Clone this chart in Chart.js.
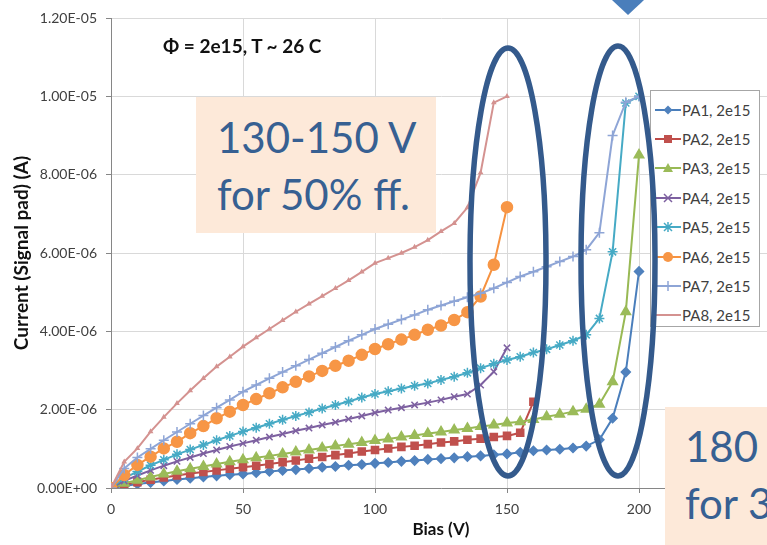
<!DOCTYPE html>
<html>
<head>
<meta charset="utf-8">
<script src="https://cdn.jsdelivr.net/npm/chart.js@4.4.1/dist/chart.umd.min.js"></script>
<style>
  html, body { margin: 0; padding: 0; width: 767px; height: 545px; overflow: hidden; background: #fff; font-family: Lato, "Open Sans", sans-serif; }
  #wrap { position: absolute; left: 0; top: 0; width: 800px; height: 545px; }
  #legend { position: absolute; left: 650px; top: 90px; width: 110px; height: 237px; background: #fff; border: 1px solid #a6a6a6; box-sizing: border-box; padding-top: 4px; }
  .lg-row { height: 29.4px; display: flex; align-items: center; font-size: 15px; color: #404040; white-space: nowrap; }
  .lg-row svg { margin-left: 4px; margin-right: 1px; }
  #fluence { position: absolute; left: 163px; top: 35px; font-size: 19px; font-weight: bold; color: #111; line-height: 22px; }
  .note { position: absolute; background: #fde9d9; color: #376092; font-size: 42px; line-height: 57px; overflow: hidden; white-space: nowrap; box-sizing: border-box; }
  #note1 { left: 196px; top: 97px; width: 240px; height: 136px; padding: 12px 0 0 21px; }
  #note2 { left: 665px; top: 407px; width: 110px; height: 140px; padding: 11px 0 0 20px; }
  #marks { position: absolute; left: 0; top: 0; }
</style>
</head>
<body>
<div id="wrap"><canvas id="chartIV"></canvas></div>
<div id="legend"></div>
<div id="fluence">Φ = 2e15, T ~ 26 C</div>
<div class="note" id="note1">130-150 V<br>for 50% ff.</div>
<div class="note" id="note2">180 V<br>for 30% ff.</div>
<svg id="marks" width="767" height="545">
  <ellipse cx="508" cy="262" rx="38" ry="214" fill="none" stroke="#345a8c" stroke-width="5.5"/>
  <ellipse cx="618" cy="261" rx="37" ry="215" fill="none" stroke="#345a8c" stroke-width="5.5"/>
  <polygon points="612,0 644,0 628,15" fill="#4a7ebb"/>
</svg>
<script>
// bias voltage steps (V)
const biasV = [0, 5, 10, 15, 20, 25, 30, 35, 40, 45, 50, 55, 60, 65, 70, 75, 80, 85, 90, 95, 100,
  105, 110, 115, 120, 125, 130, 135, 140, 145, 150, 155, 160, 165, 170, 175, 180, 185, 190, 195, 200];

// signal pad current, in microamps (1e-6 A), one value per bias step
const pa1 = [0, 0.05, 0.10, 0.14, 0.18, 0.22, 0.25, 0.28, 0.31, 0.34, 0.36, 0.39, 0.42, 0.45, 0.47, 0.50, 0.53, 0.55, 0.58, 0.60, 0.63,
  0.65, 0.68, 0.70, 0.73, 0.75, 0.77, 0.80, 0.82, 0.85, 0.87, 0.91, 0.95, 0.97, 0.99, 1.02, 1.07, 1.23, 1.78, 2.96, 5.53];
const pa2 = [0, 0.08, 0.15, 0.21, 0.27, 0.32, 0.37, 0.41, 0.45, 0.49, 0.53, 0.57, 0.61, 0.66, 0.70, 0.75, 0.79, 0.84, 0.88, 0.93, 0.97,
  1.01, 1.05, 1.08, 1.12, 1.16, 1.19, 1.23, 1.26, 1.30, 1.33, 1.41, 2.20];
const pa3 = [0, 0.12, 0.20, 0.28, 0.36, 0.43, 0.49, 0.55, 0.61, 0.67, 0.72, 0.77, 0.82, 0.87, 0.92, 0.97, 1.02, 1.07, 1.12, 1.16, 1.21,
  1.25, 1.30, 1.34, 1.39, 1.43, 1.48, 1.52, 1.57, 1.61, 1.66, 1.69, 1.75, 1.82, 1.88, 1.95, 2.01, 2.14, 2.71, 4.50, 8.50];
const pa4 = [0, 0.18, 0.32, 0.45, 0.57, 0.68, 0.78, 0.88, 0.97, 1.06, 1.14, 1.22, 1.30, 1.38, 1.46, 1.53, 1.61, 1.68, 1.76, 1.84, 1.92,
  1.99, 2.05, 2.12, 2.18, 2.25, 2.33, 2.40, 2.63, 2.97, 3.58];
const pa5 = [0, 0.25, 0.42, 0.58, 0.72, 0.86, 0.98, 1.10, 1.22, 1.33, 1.44, 1.54, 1.64, 1.74, 1.84, 1.93, 2.03, 2.12, 2.21, 2.31, 2.40,
  2.47, 2.54, 2.61, 2.67, 2.76, 2.84, 2.94, 3.06, 3.17, 3.27, 3.35, 3.46, 3.54, 3.65, 3.76, 3.91, 4.33, 6.03, 9.83, 10.0];
const pa6 = [0, 0.33, 0.59, 0.80, 1.01, 1.18, 1.40, 1.58, 1.78, 1.95, 2.12, 2.27, 2.42, 2.57, 2.71, 2.85, 2.99, 3.12, 3.25, 3.40, 3.55,
  3.67, 3.79, 3.91, 4.04, 4.15, 4.29, 4.49, 4.89, 5.70, 7.17];
const pa7 = [0, 0.50, 0.78, 1.00, 1.22, 1.43, 1.64, 1.85, 2.05, 2.25, 2.46, 2.63, 2.80, 2.96, 3.12, 3.28, 3.44, 3.60, 3.76, 3.91, 4.06,
  4.18, 4.30, 4.42, 4.55, 4.66, 4.77, 4.87, 4.97, 5.10, 5.25, 5.40, 5.52, 5.65, 5.78, 5.91, 6.08, 6.52, 9.00, 9.85, 10.0];
const pa8 = [0, 0.67, 1.01, 1.44, 1.81, 2.16, 2.49, 2.80, 3.10, 3.35, 3.61, 3.84, 4.06, 4.28, 4.50, 4.70, 4.90, 5.10, 5.30, 5.52, 5.74,
  5.87, 6.00, 6.15, 6.33, 6.55, 6.76, 7.16, 8.05, 9.84, 10.0];

const seriesNames = ['PA1, 2e15', 'PA2, 2e15', 'PA3, 2e15', 'PA4, 2e15', 'PA5, 2e15', 'PA6, 2e15', 'PA7, 2e15', 'PA8, 2e15'];
const seriesValues = [pa1, pa2, pa3, pa4, pa5, pa6, pa7, pa8];

const yTicksUA = [0, 2, 4, 6, 8, 10, 12];
const xTicksV = [0, 50, 100, 150, 200, 250];

// look of each series (line colour, marker)
const looks = [
  { line: '#4a7ebb', fill: '#4f81bd', style: 'rectRot', r: 4.5 },
  { line: '#be4b48', fill: '#c0504d', style: 'rect', r: 5 },
  { line: '#98b954', fill: '#9bbb59', style: 'triangle', r: 5.5 },
  { line: '#7d60a0', fill: '#7d60a0', style: 'crossRot', r: 4.5 },
  { line: '#46aac5', fill: '#46aac5', style: 'star', r: 5 },
  { line: '#f69240', fill: '#f79646', style: 'circle', r: 5.5 },
  { line: '#8ea5d6', fill: '#8ea5d6', style: 'cross', r: 5 },
  { line: '#d49290', fill: '#d49290', style: 'triangle', r: 1.8 }
];

function sci(v) {
  if (Math.abs(v) < 1e-15) return '0.00E+00';
  const parts = v.toExponential(2).split('e');
  const n = parseInt(parts[1], 10);
  return parts[0] + 'E' + (n < 0 ? '-' : '+') + String(Math.abs(n)).padStart(2, '0');
}

const datasets = seriesValues.map((vals, i) => ({
  label: seriesNames[i],
  data: vals.map((v, k) => ({ x: biasV[k], y: v * 1e-6 })),
  borderColor: looks[i].line,
  backgroundColor: looks[i].fill,
  pointBorderColor: looks[i].fill,
  pointBackgroundColor: looks[i].fill,
  pointStyle: looks[i].style,
  pointRadius: looks[i].r,
  pointBorderWidth: 1.5,
  borderWidth: 2,
  tension: 0,
  order: 8 - i
}));

new Chart(document.getElementById('chartIV'), {
  type: 'line',
  data: { datasets },
  options: {
    responsive: true,
    maintainAspectRatio: false,
    animation: false,
    layout: { padding: { top: 18, right: 29, bottom: 0, left: 0 } },
    plugins: { legend: { display: false }, tooltip: { enabled: false } },
    scales: {
      x: {
        type: 'linear',
        min: 0, max: 250,
        afterBuildTicks: s => { s.ticks = xTicksV.map(v => ({ value: v })); },
        afterFit: s => { s.height = 57; },
        ticks: { color: '#404040', font: { family: 'Lato', size: 14 }, padding: 8, maxRotation: 0 },
        grid: { color: '#d9d9d9', tickColor: '#868686', tickLength: 5 },
        border: { color: '#868686' },
        title: { display: true, text: 'Bias (V)', color: '#111', font: { family: 'Lato', size: 17, weight: 'bold' }, padding: { top: 0, bottom: 5 } }
      },
      y: {
        min: 0, max: 1.2e-5,
        afterBuildTicks: s => { s.ticks = yTicksUA.map(v => ({ value: v * 1e-6 })); },
        afterFit: s => { s.width = 111; },
        ticks: { color: '#404040', font: { family: 'Lato', size: 14 }, padding: 9, callback: v => sci(v) },
        grid: { color: '#d9d9d9', tickColor: '#868686', tickLength: 5 },
        border: { color: '#868686' },
        title: { display: true, text: 'Current (Signal pad) (A)', color: '#111', font: { family: 'Lato', size: 19, weight: 'bold' }, padding: { top: 10, bottom: 0 } }
      }
    }
  }
});

// legend drawn as html, one row per series
function markerSvg(look) {
  const c = look.fill, cx = 13, cy = 7;
  let m = '';
  if (look.style === 'rectRot') m = `<polygon points="${cx},${cy - 4.5} ${cx + 4.5},${cy} ${cx},${cy + 4.5} ${cx - 4.5},${cy}" fill="${c}"/>`;
  else if (look.style === 'rect') m = `<rect x="${cx - 4}" y="${cy - 4}" width="8" height="8" fill="${c}"/>`;
  else if (look.style === 'triangle' && look.r > 3) m = `<polygon points="${cx},${cy - 5} ${cx + 5},${cy + 4} ${cx - 5},${cy + 4}" fill="${c}"/>`;
  else if (look.style === 'crossRot') m = `<path d="M${cx - 4} ${cy - 4}L${cx + 4} ${cy + 4}M${cx + 4} ${cy - 4}L${cx - 4} ${cy + 4}" stroke="${c}" stroke-width="1.5"/>`;
  else if (look.style === 'star') m = `<path d="M${cx - 4} ${cy - 4}L${cx + 4} ${cy + 4}M${cx + 4} ${cy - 4}L${cx - 4} ${cy + 4}M${cx} ${cy - 5}L${cx} ${cy + 5}" stroke="${c}" stroke-width="1.5"/>`;
  else if (look.style === 'circle') m = `<circle cx="${cx}" cy="${cy}" r="5" fill="${c}"/>`;
  else if (look.style === 'cross') m = `<path d="M${cx - 5} ${cy}L${cx + 5} ${cy}M${cx} ${cy - 5}L${cx} ${cy + 5}" stroke="${c}" stroke-width="1.5"/>`;
  return `<svg width="26" height="14"><line x1="0" y1="${cy}" x2="26" y2="${cy}" stroke="${look.line}" stroke-width="2"/>${m}</svg>`;
}
document.getElementById('legend').innerHTML = seriesNames.map((name, i) =>
  `<div class="lg-row">${markerSvg(looks[i])}<span>${name}</span></div>`).join('');
</script>
</body>
</html>
